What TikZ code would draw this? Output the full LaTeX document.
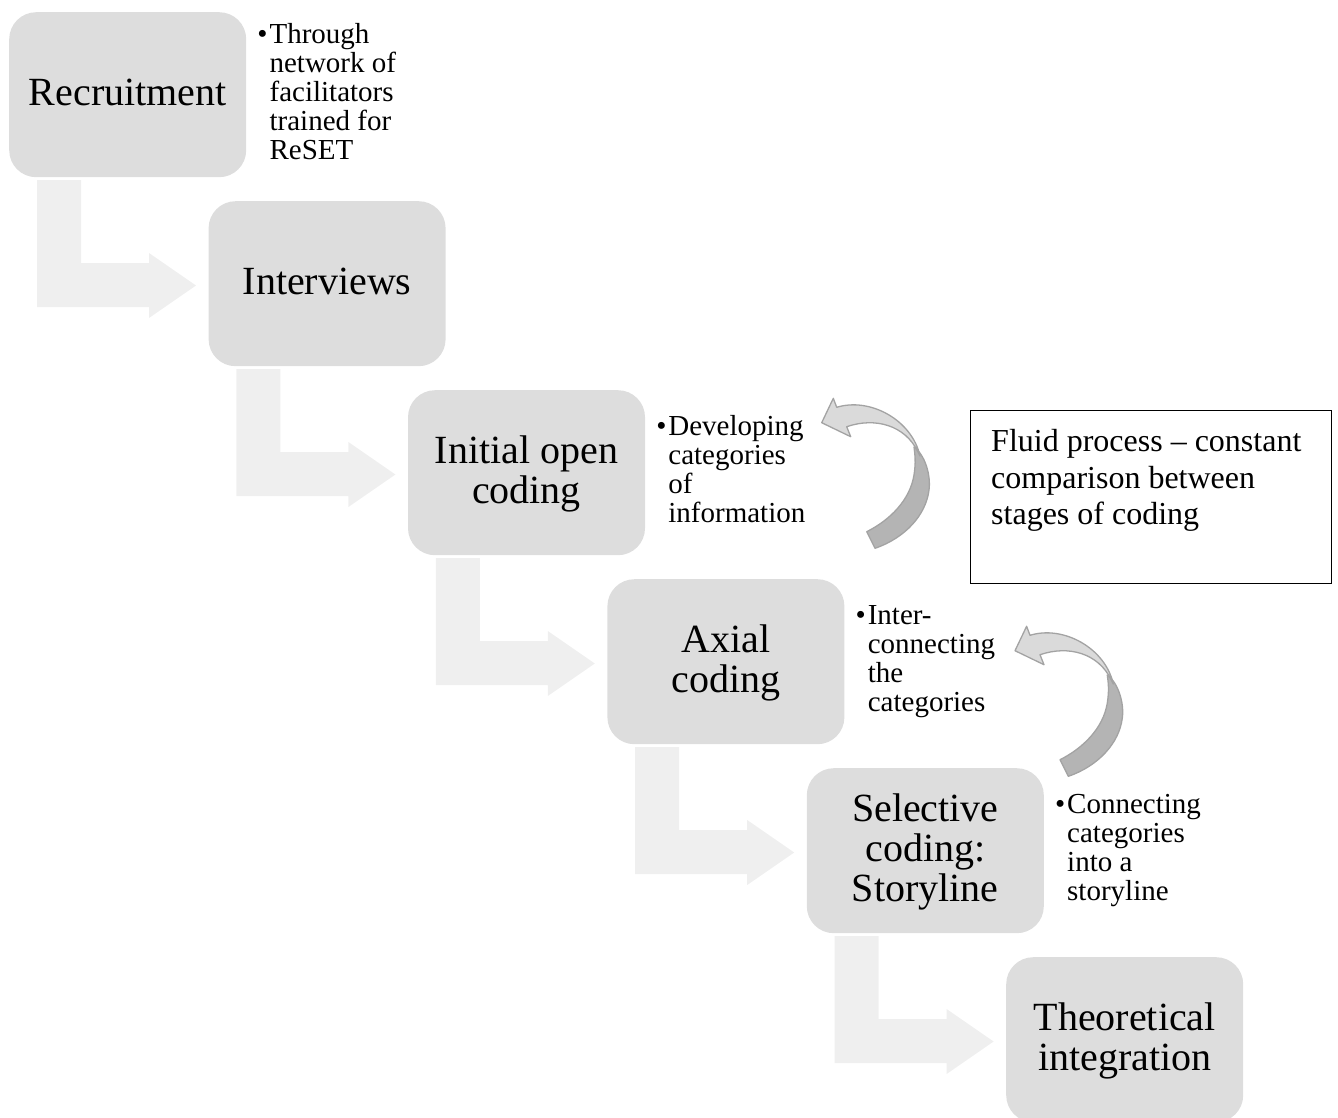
\documentclass[tikz,border=0pt]{standalone}
\usepackage{fontspec}
\setmainfont{Liberation Serif}
\usetikzlibrary{calc}

\definecolor{stagefill}{HTML}{DDDDDD}
\definecolor{flowfill}{HTML}{EFEFEF}
\definecolor{ribbonlight}{HTML}{DADADA}
\definecolor{ribbondark}{HTML}{B4B4B4}
\definecolor{ribbonedge}{HTML}{A3A3A3}

% fixed first-line heights so that text blocks are placed by their baselines
\newcommand\labstrut{\rule{0pt}{30pt}}
\newcommand\notestrut{\rule{0pt}{24pt}}
\newcommand\bul{\notestrut\llap{•\kern2pt}}

\tikzset{
  x=1pt, y=-1pt,
  stage/.style={rectangle, rounded corners=27pt, fill=stagefill,
    minimum width=237pt, minimum height=165pt, inner sep=0pt, anchor=north west},
  stagelabel/.style={anchor=north, inner sep=0pt, align=center,
    font=\fontsize{40}{40}\selectfont},
  notes/.style={anchor=north west, inner sep=0pt, align=left,
    font=\fontsize{29}{29}\selectfont},
  notebox/.style={rectangle, draw=black, line width=1.3pt, fill=white,
    minimum width=361pt, minimum height=173pt, inner sep=0pt, anchor=north west},
  notetext/.style={anchor=north west, inner sep=0pt, align=left,
    font=\fontsize{32}{36.5}\selectfont},
  % L-shaped flow arrow hanging below a stage box (origin = box north west)
  bentarrow/.pic={
    \fill[flowfill] (28,168) -- (72,168) -- (72,251) -- (140,251) -- (140,241)
      -- (187,273.5) -- (140,306) -- (140,295) -- (28,295) -- cycle;
  },
  % twisted curved arrow pointing back up-left (origin = arrow tip)
  twistarrow/.pic={
    \filldraw[fill=ribbondark, draw=ribbonedge, line width=1.3pt, line join=round]
      (92.3,24.3) .. controls (103.3,32.3) and (109.3,52.3) .. (107.3,67.3)
      .. controls (104.3,92.3) and (83.3,115.3) .. (53.3,125.6)
      -- (45,109)
      .. controls (68.3,97.3) and (88.3,77.3) .. (92.3,52.3)
      .. controls (94.3,39.3) and (93.3,32.3) .. cycle;
    \filldraw[fill=ribbonlight, draw=ribbonedge, line width=1.3pt, line join=round]
      (98.3,33.3) .. controls (90.3,-2.7) and (48.3,-25.7) .. (15,-15.4)
      -- (11.6,-24.4) -- (0,0) -- (29,14) -- (25,4)
      .. controls (53.3,-5.7) and (83.3,2.3) .. (96.3,29.3) -- cycle;
  }
}

\begin{document}
\begin{tikzpicture}
  \useasboundingbox (0,0) rectangle (1338,1117);

  % stage boxes
  \node[stage] (s1) at (9,12) {};
  \node[stage] (s2) at (208.4,201) {};
  \node[stage] (s3) at (407.8,390) {};
  \node[stage] (s4) at (607.2,579) {};
  \node[stage] (s5) at (806.6,768) {};
  \node[stage] (s6) at (1006,957) {};

  % flow arrows between consecutive stages
  \pic at (s1.north west) {bentarrow};
  \pic at (s2.north west) {bentarrow};
  \pic at (s3.north west) {bentarrow};
  \pic at (s4.north west) {bentarrow};
  \pic at (s5.north west) {bentarrow};

  % stage labels
  \node[stagelabel] (t1) at ($(s1.center)+(0,-19)$) {\labstrut Recruitment};
  \node[stagelabel] (t2) at ($(s2.center)+(0,-19)$) {\labstrut Interviews};
  \node[stagelabel] (t3) at ($(s3.center)+(0,-39)$) {\labstrut Initial open\\coding};
  \node[stagelabel] (t4) at ($(s4.center)+(0,-39)$) {\labstrut Axial\\coding};
  \node[stagelabel] (t5) at ($(s5.center)+(0,-59)$) {\labstrut Selective\\coding:\\Storyline};
  \node[stagelabel] (t6) at ($(s6.center)+(0,-39)$) {\labstrut Theoretical\\integration};

  % bullet notes beside the stages
  \node[notes] (n1) at ($(s1.east)+(23,-75.5)$)
    {\bul Through\\network of\\facilitators\\trained for\\ReSET};
  \node[notes] (n3) at ($(s3.east)+(23,-61)$)
    {\bul Developing\\categories\\of\\information};
  \node[notes] (n4) at ($(s4.east)+(23,-61)$)
    {\bul Inter-\\connecting\\the\\categories};
  \node[notes] (n5) at ($(s5.east)+(23,-61)$)
    {\bul Connecting\\categories\\into a\\storyline};

  % feedback arrows between coding stages
  \pic at (821.7,422.7) {twistarrow};
  \pic at (1015,650.7) {twistarrow};

  % comment box
  \node[notebox] (fluid) at (970,410) {};
  \node[notetext] (fluidtxt) at ($(fluid.north west)+(21,15.3)$)
    {\rule{0pt}{26pt}Fluid process -- constant\\comparison between\\stages of coding};
\end{tikzpicture}
\end{document}
